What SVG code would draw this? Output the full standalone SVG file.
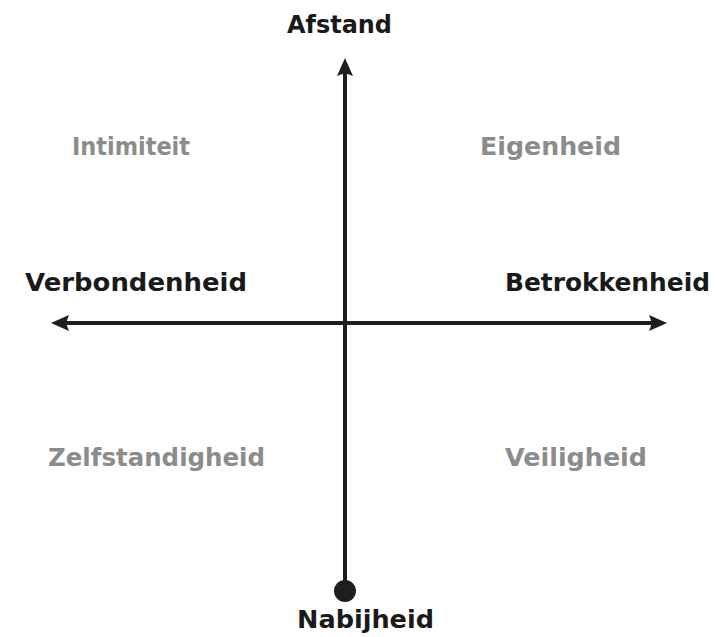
<svg xmlns="http://www.w3.org/2000/svg" width="715" height="637" viewBox="0 0 715 637">
<style>
.ax{stroke:#1e1e1e;stroke-width:4;fill:none}
.b{font-family:"DejaVu Sans",sans-serif;font-weight:bold;font-size:25px;fill:#1a1a1a}
.g{font-family:"DejaVu Sans",sans-serif;font-weight:bold;font-size:25px;fill:#8c8c8c}
</style>
<defs>
<marker id="ah" viewBox="0 0 18 18" refX="3" refY="9" markerWidth="18" markerHeight="18" markerUnits="userSpaceOnUse" orient="auto">
<path d="M0,1 L18,9 L0,17 L3,9 Z" fill="#1e1e1e"/>
</marker>
</defs>
<rect width="715" height="637" fill="#fff"/>
<g id="connectors">
<line class="ax" x1="345" y1="591" x2="345" y2="73" marker-end="url(#ah)"/>
<line class="ax" x1="345" y1="323" x2="66" y2="323" marker-end="url(#ah)"/>
<line class="ax" x1="345" y1="323" x2="652" y2="323" marker-end="url(#ah)"/>
<circle cx="345" cy="591" r="11" fill="#1e1e1e"/>
</g>
<g id="afstand"><text class="b" x="287" y="33" textLength="105" lengthAdjust="spacingAndGlyphs">Afstand</text></g>
<g id="nabijheid"><text class="b" x="297" y="628" textLength="137" lengthAdjust="spacingAndGlyphs">Nabijheid</text></g>
<g id="verbondenheid"><text class="b" x="25" y="291" textLength="222" lengthAdjust="spacingAndGlyphs">Verbondenheid</text></g>
<g id="betrokkenheid"><text class="b" x="505" y="291" textLength="205" lengthAdjust="spacingAndGlyphs">Betrokkenheid</text></g>
<g id="intimiteit"><text class="g" x="72" y="155" textLength="118" lengthAdjust="spacingAndGlyphs">Intimiteit</text></g>
<g id="eigenheid"><text class="g" x="480" y="155" textLength="141" lengthAdjust="spacingAndGlyphs">Eigenheid</text></g>
<g id="zelfstandigheid"><text class="g" x="48" y="466" textLength="217" lengthAdjust="spacingAndGlyphs">Zelfstandigheid</text></g>
<g id="veiligheid"><text class="g" x="505" y="466" textLength="142" lengthAdjust="spacingAndGlyphs">Veiligheid</text></g>
</svg>
